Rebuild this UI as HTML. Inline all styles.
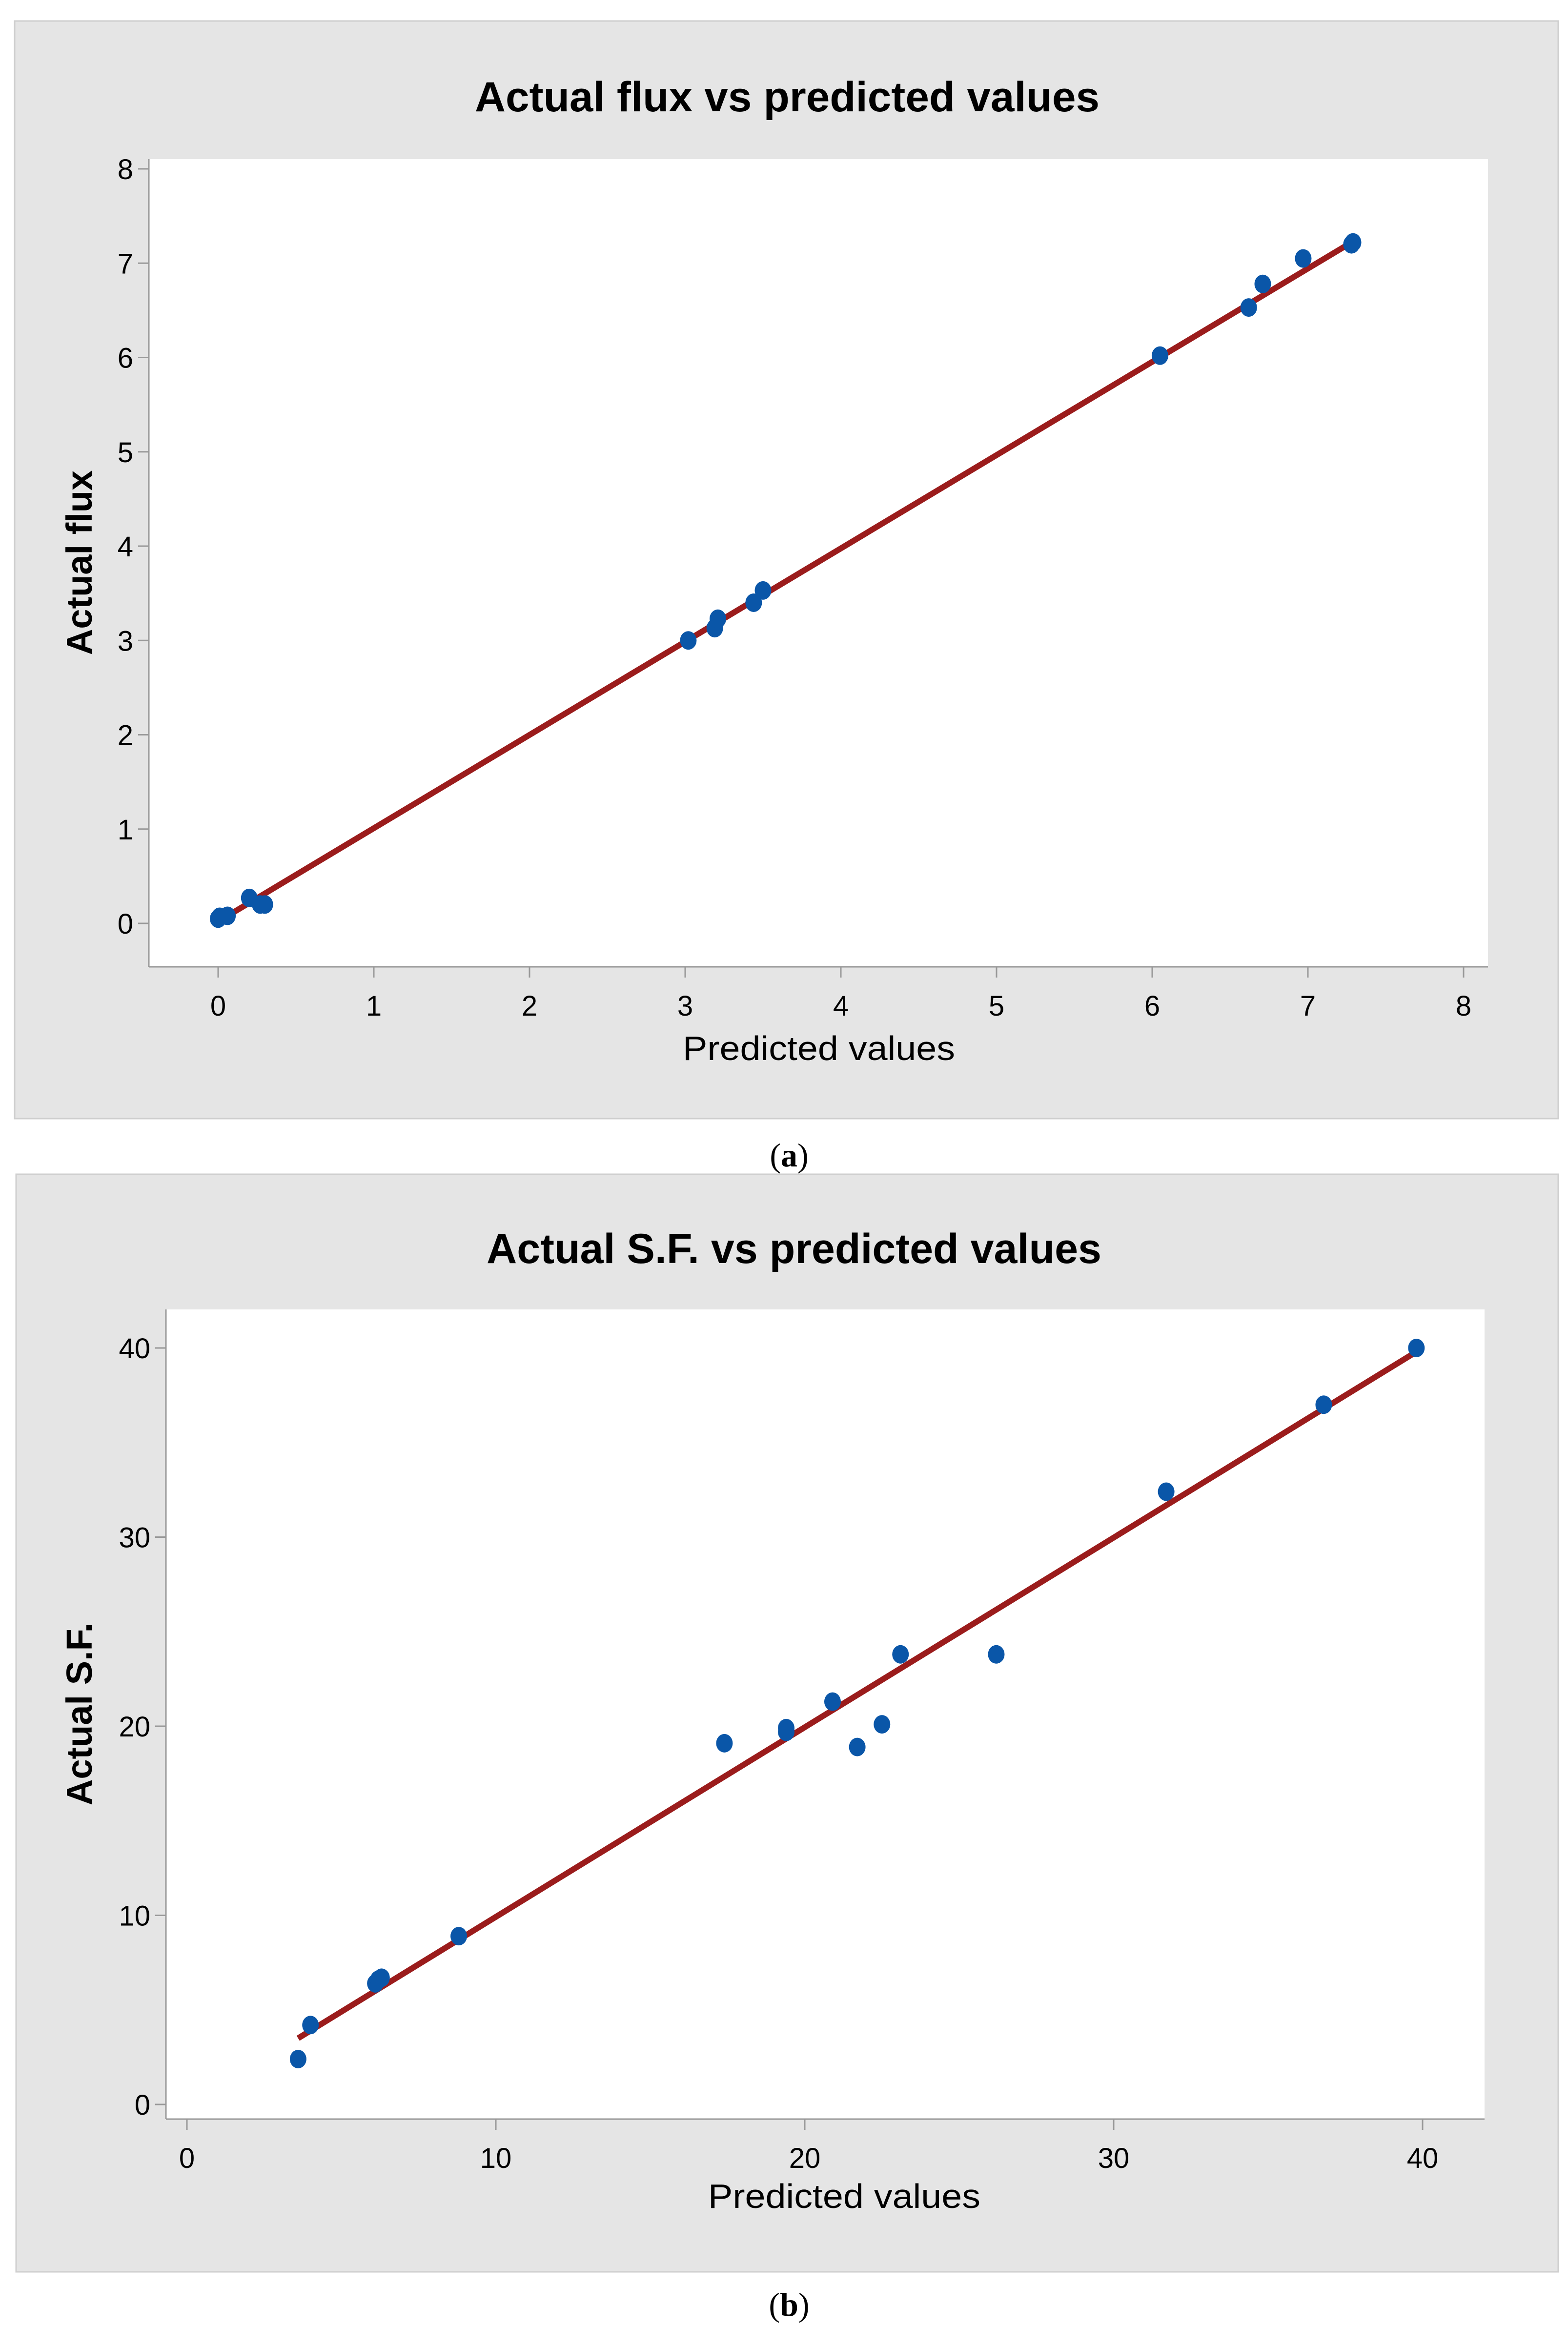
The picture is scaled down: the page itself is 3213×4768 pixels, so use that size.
<!DOCTYPE html>
<html><head><meta charset="utf-8"><style>
html,body{margin:0;padding:0;background:#fff}
svg{display:block}
text{font-family:"Liberation Sans",sans-serif;fill:#000}
</style></head><body>
<svg id="s" width="3213" height="4768" viewBox="0 0 3213 4768" xmlns="http://www.w3.org/2000/svg">
<rect x="30" y="43" width="3163" height="2249" fill="#e5e5e5" stroke="#cfcfcf" stroke-width="3"/>
<rect x="305" y="326" width="2744" height="1655" fill="#fff"/>
<text x="1613" y="228" font-size="86" font-weight="bold" text-anchor="middle" textLength="1280" lengthAdjust="spacingAndGlyphs">Actual flux vs predicted values</text>
<text x="1678" y="2172" font-size="70" text-anchor="middle" textLength="558" lengthAdjust="spacingAndGlyphs">Predicted values</text>
<text transform="translate(188,1153) rotate(-90)" font-size="74" font-weight="bold" text-anchor="middle">Actual flux</text>
<text x="1617" y="2390" font-size="68" text-anchor="middle" style="font-family:'Liberation Serif',serif">(<tspan font-weight="bold">a</tspan>)</text>
<g id="ga"></g>
<rect x="33" y="2406" width="3160" height="2249" fill="#e5e5e5" stroke="#cfcfcf" stroke-width="3"/>
<rect x="340" y="2683" width="2702" height="1659" fill="#fff"/>
<text x="1627" y="2588" font-size="86" font-weight="bold" text-anchor="middle" textLength="1260" lengthAdjust="spacingAndGlyphs">Actual S.F. vs predicted values</text>
<text x="1730" y="4524" font-size="70" text-anchor="middle" textLength="558" lengthAdjust="spacingAndGlyphs">Predicted values</text>
<text transform="translate(188,3512) rotate(-90)" font-size="74" font-weight="bold" text-anchor="middle">Actual S.F.</text>
<text x="1617" y="4745" font-size="68" text-anchor="middle" style="font-family:'Liberation Serif',serif">(<tspan font-weight="bold">b</tspan>)</text>
<g id="gb"></g>
</svg>
<script>
// Panel A data
const aTicks = [0,1,2,3,4,5,6,7,8];
const aPredicted = [0,0.01,0.06,0.2,0.27,0.3,3.02,3.19,3.21,3.44,3.5,6.05,6.62,6.71,6.97,7.28,7.29];
const aActual = [0.05,0.07,0.08,0.27,0.2,0.2,3.0,3.13,3.23,3.4,3.53,6.02,6.53,6.78,7.05,7.2,7.22];
const aFitX = [0,7.28];
const aFitY = [0.02,7.22];
// Panel B data
const bTicks = [0,10,20,30,40];
const bPredicted = [3.6,4.0,6.1,6.2,6.3,8.8,17.4,19.4,19.4,20.9,21.7,22.5,23.1,26.2,31.7,36.8,39.8];
const bActual = [2.4,4.2,6.4,6.6,6.7,8.9,19.1,19.9,19.7,21.3,18.9,20.1,23.8,23.8,32.4,37.0,40.0];
const bFitX = [3.6,39.8];
const bFitY = [3.5,39.8];

const NS = "http://www.w3.org/2000/svg";
function mk(parent, tag, attrs){const e=document.createElementNS(NS,tag);for(const k in attrs)e.setAttribute(k,attrs[k]);parent.appendChild(e);return e;}

function draw(g, p, ticks, px, py, fx, fy, cfg){
  const sx = v => cfg.x0 + (v - ticks[0]) * (cfg.x1 - cfg.x0) / (ticks[ticks.length-1] - ticks[0]);
  const sy = v => cfg.y0 - (v - ticks[0]) * (cfg.y0 - cfg.y1) / (ticks[ticks.length-1] - ticks[0]);
  const ax = mk(g,'line',{x1:cfg.l,y1:cfg.b,x2:cfg.r,y2:cfg.b,stroke:'#999','stroke-width':3});
  
  
  const ay = mk(g,'line',{x1:cfg.l,y1:cfg.t,x2:cfg.l,y2:cfg.b,stroke:'#999','stroke-width':3});
  
  
  ticks.forEach(t=>{
    const tx = mk(g,'line',{x1:sx(t),y1:cfg.b,x2:sx(t),y2:cfg.b+22,stroke:'#999','stroke-width':3});
    
    
    const lx = mk(g,'text',{x:sx(t),y:cfg.b+100,'font-size':58,'text-anchor':'middle'});
    lx.textContent = t;
    
    
    const ty = mk(g,'line',{x1:cfg.l-22,y1:sy(t),x2:cfg.l,y2:sy(t),stroke:'#999','stroke-width':3});
    
    
    const ly = mk(g,'text',{x:cfg.l-32,y:sy(t)+21,'font-size':58,'text-anchor':'end'});
    ly.textContent = t;
    
    
  });
  const fit = mk(g,'line',{x1:sx(fx[0]),y1:sy(fy[0]),x2:sx(fx[1]),y2:sy(fy[1]),stroke:'#9b1c1c','stroke-width':12});
  
  
  px.forEach((v,i)=>{
    const c = mk(g,'ellipse',{cx:sx(v),cy:sy(py[i]),rx:17,ry:19,fill:'#0a56a8'});
    
    
  });
}
draw(document.getElementById('ga'),'panel-a',aTicks,aPredicted,aActual,aFitX,aFitY,
  {x0:447,x1:2999,y0:1892,y1:346,l:305,r:3049,t:326,b:1981});
draw(document.getElementById('gb'),'panel-b',bTicks,bPredicted,bActual,bFitX,bFitY,
  {x0:383,x1:2915,y0:4312,y1:2762,l:340,r:3042,t:2683,b:4342});
</script>
</body></html>
